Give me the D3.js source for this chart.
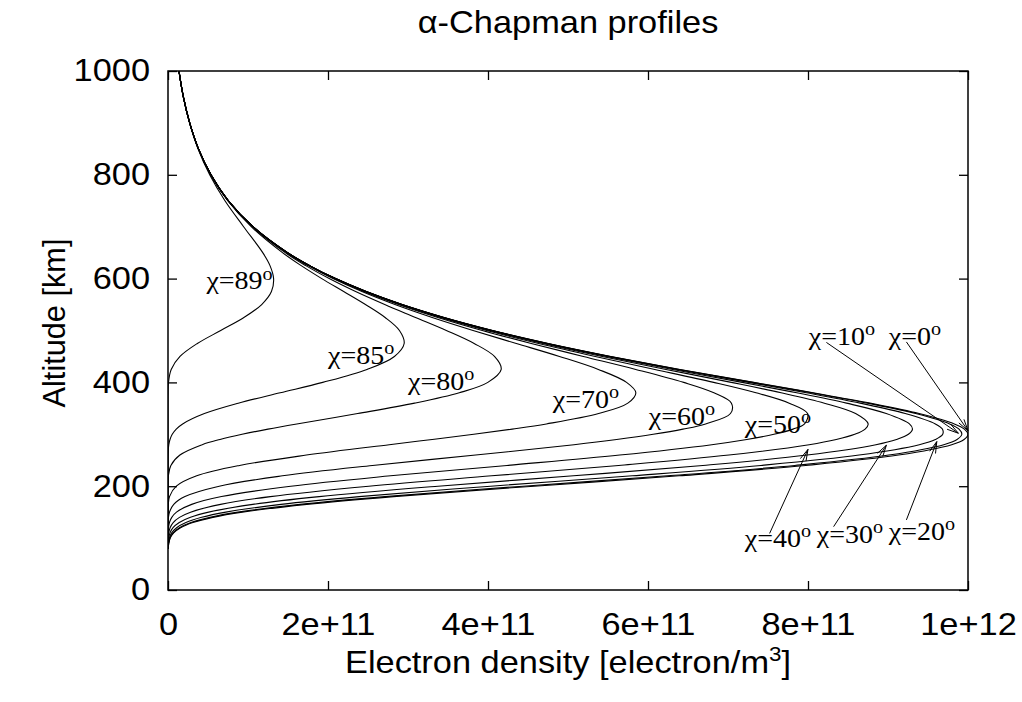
<!DOCTYPE html>
<html>
<head>
<meta charset="utf-8">
<script src="https://cdn.jsdelivr.net/npm/d3@7"></script>
<style>
    body { margin: 0; background: #ffffff; }
    #chart-area { width: 1022px; height: 702px; }
</style>
</head>
<body>
<div id="chart-area"></div>
<script>

// Altitude grid [km], shared by every profile
const altitudes = [80, 90, 100, 110, 120, 130, 140, 150, 165, 180, 200, 220, 240, 260, 280, 290, 300, 310, 320, 340,
    360, 380, 400, 425, 450, 475, 500, 525, 550, 575, 600, 625, 650, 700, 750, 800, 850, 900, 950, 1000];

// Electron density per solar zenith angle (units of 1e11 electron/m^3)
const chi0 = [0.003, 0.010, 0.028, 0.071, 0.157, 0.311, 0.561, 0.929, 1.733, 2.820, 4.575, 6.389, 7.973, 9.132, 9.796, 9.951, 10.000, 9.955, 9.829, 9.388,
    8.774, 8.065, 7.320, 6.399, 5.535, 4.752, 4.057, 3.451, 2.927, 2.478, 2.095, 1.770, 1.494, 1.063, 0.755, 0.537, 0.381, 0.271, 0.192, 0.137];
const chi10 = [0.003, 0.008, 0.025, 0.064, 0.143, 0.287, 0.524, 0.875, 1.650, 2.710, 4.438, 6.243, 7.834, 9.011, 9.697, 9.863, 9.923, 9.888, 9.771, 9.346,
    8.744, 8.044, 7.306, 6.390, 5.530, 4.749, 4.055, 3.450, 2.926, 2.478, 2.095, 1.770, 1.494, 1.063, 0.755, 0.537, 0.381, 0.271, 0.192, 0.137];
const chi20 = [0.002, 0.006, 0.017, 0.046, 0.108, 0.224, 0.421, 0.723, 1.413, 2.389, 4.032, 5.804, 7.412, 8.639, 9.391, 9.592, 9.684, 9.680, 9.592, 9.215,
    8.651, 7.979, 7.261, 6.362, 5.512, 4.738, 4.049, 3.446, 2.924, 2.476, 2.094, 1.769, 1.494, 1.062, 0.755, 0.537, 0.381, 0.271, 0.192, 0.137];
const chi30 = [0.001, 0.003, 0.009, 0.025, 0.063, 0.141, 0.281, 0.508, 1.060, 1.890, 3.375, 5.069, 6.686, 7.989, 8.849, 9.106, 9.255, 9.306, 9.268, 8.978,
    8.481, 7.859, 7.177, 6.310, 5.480, 4.719, 4.037, 3.439, 2.920, 2.474, 2.092, 1.768, 1.493, 1.062, 0.754, 0.537, 0.381, 0.271, 0.192, 0.137];
const chi40 = [0.000, 0.001, 0.003, 0.009, 0.026, 0.065, 0.143, 0.282, 0.657, 1.279, 2.509, 4.046, 5.633, 7.012, 8.014, 8.353, 8.584, 8.714, 8.752, 8.595,
    8.205, 7.664, 7.041, 6.225, 5.428, 4.686, 4.017, 3.427, 2.912, 2.469, 2.090, 1.767, 1.492, 1.062, 0.754, 0.537, 0.381, 0.271, 0.192, 0.137];
const chi50 = [0.000, 0.000, 0.000, 0.002, 0.006, 0.018, 0.047, 0.106, 0.296, 0.669, 1.534, 2.782, 4.238, 5.647, 6.797, 7.235, 7.574, 7.813, 7.957, 7.995,
    7.765, 7.350, 6.821, 6.086, 5.341, 4.633, 3.985, 3.407, 2.901, 2.462, 2.085, 1.764, 1.491, 1.062, 0.754, 0.537, 0.381, 0.271, 0.192, 0.137];
const chi60 = [0.000, 0.000, 0.000, 0.000, 0.000, 0.002, 0.006, 0.019, 0.072, 0.212, 0.640, 1.431, 2.556, 3.846, 5.075, 5.608, 6.065, 6.437, 6.720, 7.031,
    7.043, 6.824, 6.446, 5.847, 5.192, 4.541, 3.928, 3.373, 2.880, 2.450, 2.078, 1.760, 1.488, 1.061, 0.754, 0.537, 0.381, 0.271, 0.192, 0.137];
const chi70 = [0.000, 0.000, 0.000, 0.000, 0.000, 0.000, 0.000, 0.001, 0.004, 0.019, 0.104, 0.359, 0.894, 1.730, 2.765, 3.302, 3.822, 4.303, 4.730, 5.383,
    5.748, 5.848, 5.732, 5.379, 4.893, 4.354, 3.813, 3.302, 2.837, 2.424, 2.062, 1.750, 1.482, 1.059, 0.753, 0.536, 0.381, 0.271, 0.192, 0.137];
const chi80 = [0.000, 0.000, 0.000, 0.000, 0.000, 0.000, 0.000, 0.000, 0.000, 0.000, 0.000, 0.005, 0.036, 0.149, 0.428, 0.650, 0.926, 1.250, 1.610, 2.371,
    3.082, 3.641, 3.998, 4.165, 4.081, 3.827, 3.479, 3.094, 2.709, 2.345, 2.015, 1.722, 1.465, 1.053, 0.751, 0.536, 0.380, 0.271, 0.192, 0.137];
const chi85 = [0.000, 0.000, 0.000, 0.000, 0.000, 0.000, 0.000, 0.000, 0.000, 0.000, 0.000, 0.000, 0.000, 0.001, 0.010, 0.025, 0.053, 0.103, 0.183, 0.455,
    0.878, 1.402, 1.934, 2.487, 2.830, 2.952, 2.893, 2.714, 2.468, 2.196, 1.922, 1.665, 1.431, 1.040, 0.747, 0.534, 0.380, 0.271, 0.192, 0.137];
const chi89 = [0.000, 0.000, 0.000, 0.000, 0.000, 0.000, 0.000, 0.000, 0.000, 0.000, 0.000, 0.000, 0.000, 0.000, 0.000, 0.000, 0.000, 0.000, 0.000, 0.000,
    0.000, 0.001, 0.006, 0.040, 0.150, 0.367, 0.659, 0.949, 1.171, 1.293, 1.320, 1.275, 1.184, 0.945, 0.712, 0.521, 0.375, 0.269, 0.191, 0.137];

const zenithAngles = [0, 10, 20, 30, 40, 50, 60, 70, 80, 85, 89];
const profiles = [chi0, chi10, chi20, chi30, chi40, chi50, chi60, chi70, chi80, chi85, chi89];

// Tick values and labels
const xTickValues = [0, 2e11, 4e11, 6e11, 8e11, 1e12];
const xTickLabels = ["0", "2e+11", "4e+11", "6e+11", "8e+11", "1e+12"];
const yTickValues = [0, 200, 400, 600, 800, 1000];


class ChapmanChart {

    constructor(parentElement) {
        this.parentElement = parentElement;
        this.initVis();
    }

    /*
     * Static content: svg, scales, axes, frame
     */
    initVis() {
        let vis = this;

        vis.margin = {top: 71, right: 54, bottom: 112, left: 168};
        vis.width = 1022 - vis.margin.left - vis.margin.right;
        vis.height = 702 - vis.margin.top - vis.margin.bottom;

        // the original output is a bit wider than tall, so horizontal text gets stretched
        vis.stretch = "scale(1.12,1)";

        vis.root = d3.select("#" + vis.parentElement).append("svg")
            .attr("width", 1022)
            .attr("height", 702);

        vis.svg = vis.root.append("g")
            .attr("transform", "translate(" + vis.margin.left + "," + vis.margin.top + ")");

        vis.x = d3.scaleLinear().domain([0, 1e12]).range([0, vis.width]);
        vis.y = d3.scaleLinear().domain([0, 1000]).range([vis.height, 0]);

        const sans = "'Liberation Sans', Arial, Helvetica, sans-serif";

        // Bottom axis with labels, ticks pointing inwards
        let xAxis = d3.axisBottom(vis.x)
            .tickValues(xTickValues)
            .tickFormat((d, i) => xTickLabels[i])
            .tickSizeInner(-9).tickSizeOuter(0).tickPadding(23);
        vis.svg.append("g")
            .attr("class", "x-axis")
            .attr("transform", "translate(0," + vis.height + ")")
            .call(xAxis);

        let yAxis = d3.axisLeft(vis.y)
            .tickValues(yTickValues)
            .tickFormat(d3.format("d"))
            .tickSizeInner(-9).tickSizeOuter(0).tickPadding(16);
        vis.svg.append("g")
            .attr("class", "y-axis")
            .call(yAxis);

        // Mirror ticks on top and right
        vis.svg.append("g")
            .call(d3.axisTop(vis.x).tickValues(xTickValues).tickFormat("").tickSizeInner(-9).tickSizeOuter(0));
        vis.svg.append("g")
            .attr("transform", "translate(" + vis.width + ",0)")
            .call(d3.axisRight(vis.y).tickValues(yTickValues).tickFormat("").tickSizeInner(-9).tickSizeOuter(0));

        vis.svg.selectAll(".domain").remove();
        vis.svg.selectAll(".tick line").attr("stroke", "#000").attr("stroke-width", 1.3);
        vis.svg.selectAll(".x-axis text, .y-axis text")
            .attr("font-family", sans)
            .attr("font-size", 30.7)
            .attr("fill", "#000")
            .attr("transform", vis.stretch);
        vis.svg.selectAll(".x-axis, .y-axis").attr("font-family", null).attr("font-size", null);

        // Clip so curves stop at the frame
        vis.svg.append("clipPath").attr("id", "plot-clip")
            .append("rect").attr("width", vis.width).attr("height", vis.height);

        // Title and axis titles
        vis.root.append("g")
            .attr("transform", "translate(" + (vis.margin.left + vis.width / 2) + ",33) " + vis.stretch)
            .append("text")
            .attr("text-anchor", "middle")
            .attr("font-family", sans)
            .attr("font-size", 30.7)
            .text("α-Chapman profiles");

        let xTitle = vis.root.append("g")
            .attr("transform", "translate(" + (vis.margin.left + vis.width / 2) + ",673) " + vis.stretch)
            .append("text")
            .attr("text-anchor", "middle")
            .attr("font-family", sans)
            .attr("font-size", 30.7);
        xTitle.append("tspan").text("Electron density [electron/m");
        xTitle.append("tspan").attr("font-size", 20).attr("dy", -12).text("3");
        xTitle.append("tspan").attr("dy", 12).text("]");

        vis.root.append("text")
            .attr("transform", "translate(65,323) rotate(-90)")
            .attr("text-anchor", "middle")
            .attr("font-family", sans)
            .attr("font-size", 30.7)
            .text("Altitude [km]");

        this.wrangleData();
    }

    /*
     * Turn the arrays into one series per zenith angle
     */
    wrangleData() {
        let vis = this;

        vis.displayData = zenithAngles.map((angle, i) => ({
            angle: angle,
            values: altitudes.map((h, j) => ({alt: h, density: profiles[i][j] * 1e11}))
        }));

        this.updateVis();
    }

    /*
     * Curves, labels and arrows
     */
    updateVis() {
        let vis = this;

        let line = d3.line()
            .x(d => vis.x(d.density))
            .y(d => vis.y(d.alt))
            .curve(d3.curveCatmullRom.alpha(0.5));

        vis.svg.append("g")
            .attr("clip-path", "url(#plot-clip)")
            .selectAll(".profile")
            .data(vis.displayData)
            .join("path")
            .attr("class", "profile")
            .attr("d", d => line(d.values))
            .attr("fill", "none")
            .attr("stroke", "#000")
            .attr("stroke-width", 1.1);

        // Labels placed like gnuplot "set label at x,y" (density in 1e11, altitude)
        const labels = [
            {angle: 89, at: [0.48, 579]},
            {angle: 85, at: [2.00, 435]},
            {angle: 80, at: [3.00, 385]},
            {angle: 70, at: [4.81, 351]},
            {angle: 60, at: [6.01, 318]},
            {angle: 50, at: [7.21, 302]},
            {angle: 10, at: [8.01, 472]},
            {angle: 0, at: [9.01, 472]},
            {angle: 40, at: [7.21, 83]},
            {angle: 30, at: [8.11, 90]},
            {angle: 20, at: [9.01, 96]}
        ];

        labels.forEach(l => {
            let t = vis.svg.append("g")
                .attr("transform", "translate(" + vis.x(l.at[0] * 1e11) + "," + vis.y(l.at[1]) + ") " + vis.stretch)
                .append("text")
                .attr("font-family", "'Liberation Serif', 'Times New Roman', serif")
                .attr("font-size", 25);
            t.append("tspan").text("χ=" + l.angle);
            t.append("tspan").attr("font-size", 18).attr("dy", -10).text("o");
        });

        // Arrows from label to the curve tip
        const arrows = [
            {from: [8.23, 477], to: [9.88, 302]},
            {from: [9.23, 478], to: [10.0, 307]},
            {from: [7.52, 109], to: [8.00, 271]},
            {from: [8.32, 122], to: [8.98, 279]},
            {from: [9.23, 135], to: [9.61, 286]}
        ];

        arrows.forEach(a => {
            let x1 = vis.x(a.from[0] * 1e11), y1 = vis.y(a.from[1]);
            let x2 = vis.x(a.to[0] * 1e11), y2 = vis.y(a.to[1]);
            let ang = Math.atan2(y2 - y1, x2 - x1);
            let len = 12, spread = Math.PI / 12;
            let hx1 = x2 - len * Math.cos(ang - spread), hy1 = y2 - len * Math.sin(ang - spread);
            let hx2 = x2 - len * Math.cos(ang + spread), hy2 = y2 - len * Math.sin(ang + spread);

            vis.svg.append("path")
                .attr("d", `M${x1},${y1}L${x2},${y2}M${hx1},${hy1}L${x2},${y2}L${hx2},${hy2}`)
                .attr("fill", "none")
                .attr("stroke", "#000")
                .attr("stroke-width", 1);
        });

        // Frame on top
        vis.svg.append("rect")
            .attr("width", vis.width)
            .attr("height", vis.height)
            .attr("fill", "none")
            .attr("stroke", "#000")
            .attr("stroke-width", 1.5);
    }
}

new ChapmanChart("chart-area");

</script>
</body>
</html>
